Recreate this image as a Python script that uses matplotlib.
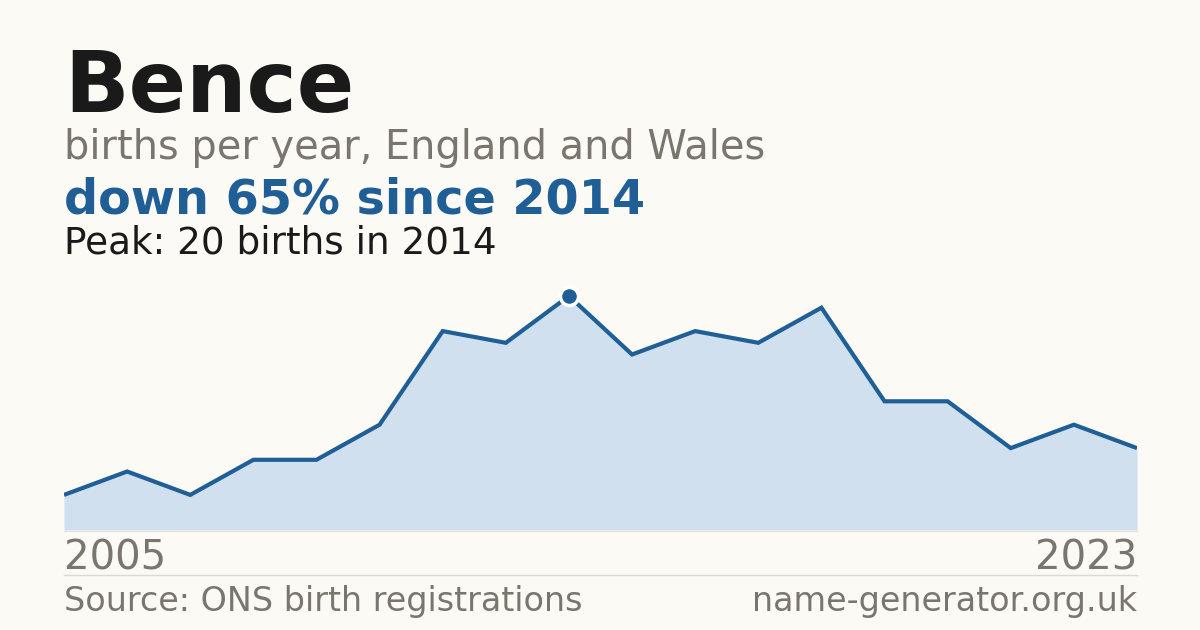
import numpy as np
import matplotlib
matplotlib.use("Agg")
import matplotlib.pyplot as plt

plt.rcParams["font.family"] = ["DejaVu Sans"]

# births per year (one year in 2005-2013 is absent from the source, so x is by index)
first_year = "2005"
last_year = "2023"
births = [3, 5, 3, 6, 6, 9, 17, 16, 20, 15, 17, 16, 19, 11, 11, 7, 9, 7]
peak_idx = 8

name = "Bence"
subtitle = "births per year, England and Wales"
headline = "down 65% since 2014"
peak_text = "Peak: 20 births in 2014"
source = "Source: ONS birth registrations"
site = "name-generator.org.uk"

bg = "#fbfaf5"
blue = "#1f5f96"
fill = "#d0e0ef"
grey = "#7a766e"
dark = "#1a1a1a"

W, H = 1200, 630
fig = plt.figure(figsize=(12, 6.3), dpi=100, facecolor=bg)

def fy(py):
    return 1 - py / H

left, right, base, top = 64, 1137, 530, 296
ax = fig.add_axes([left / W, fy(base), (right - left) / W, (base - top) / H])
ax.set_facecolor(bg)
x = np.arange(len(births))
ax.fill_between(x, births, 0, color=fill, lw=0)
ax.plot(x, births, color=blue, lw=3.0, solid_joinstyle="miter", solid_capstyle="butt")
ax.plot(x[peak_idx], births[peak_idx], "o", ms=13, color=blue, mec="white", mew=2.5, clip_on=False, zorder=5)
ax.set_xlim(0, len(births) - 1)
ax.set_ylim(0, 20)
ax.axis("off")

fig.text(left / W, fy(112), name, fontsize=61, fontweight="bold", color=dark, va="baseline")
fig.text(left / W, fy(159), subtitle, fontsize=28.7, color=grey, va="baseline")
fig.text(left / W, fy(214), headline, fontsize=34.4, fontweight="bold", color=blue, va="baseline")
fig.text(left / W, fy(254), peak_text, fontsize=26.9, color=dark, va="baseline")

fig.text(left / W, fy(569), first_year, fontsize=29, color=grey, va="baseline")
fig.text(right / W, fy(569), last_year, fontsize=29, color=grey, va="baseline", ha="right")
fig.add_artist(plt.Line2D([left / W, right / W], [fy(574.5), fy(574.5)], color="#dcd9d2", lw=1))
fig.add_artist(plt.Line2D([left / W, right / W], [fy(530.5), fy(530.5)], color="#e8e4dc", lw=1))
fig.text(left / W, fy(611), source, fontsize=24, color=grey, va="baseline")
fig.text(right / W, fy(611), site, fontsize=24, color=grey, va="baseline", ha="right")

fig.savefig("out.png", dpi=100, facecolor=bg)
